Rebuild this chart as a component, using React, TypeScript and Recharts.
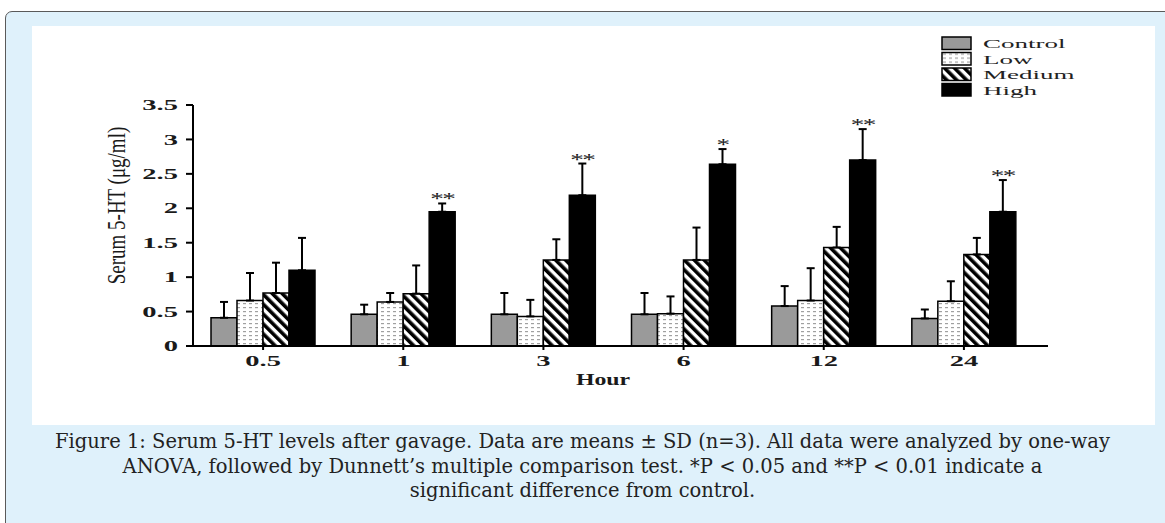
import React from 'react';
import { BarChart, Bar, XAxis, YAxis, ErrorBar, Legend, Label, Rectangle } from 'recharts';

// values (means and upper SD)
const hours = ['0.5', '1', '3', '6', '12', '24'];
const controlMean = [0.41, 0.46, 0.46, 0.46, 0.58, 0.4];
const controlSd = [0.23, 0.14, 0.31, 0.31, 0.29, 0.13];
const lowMean = [0.66, 0.64, 0.43, 0.47, 0.66, 0.65];
const lowSd = [0.4, 0.13, 0.24, 0.25, 0.47, 0.29];
const mediumMean = [0.77, 0.76, 1.25, 1.25, 1.43, 1.33];
const mediumSd = [0.44, 0.41, 0.3, 0.47, 0.3, 0.24];
const highMean = [1.1, 1.95, 2.19, 2.64, 2.7, 1.95];
const highSd = [0.47, 0.12, 0.46, 0.22, 0.45, 0.46];
const highSig = ['', '**', '**', '*', '**', '**'];
const yTicks = [0, 0.5, 1, 1.5, 2, 2.5, 3, 3.5];

const data = hours.map((hour, i) => ({
  hour,
  control: controlMean[i],
  controlErr: [0, controlSd[i]],
  low: lowMean[i],
  lowErr: [0, lowSd[i]],
  medium: mediumMean[i],
  mediumErr: [0, mediumSd[i]],
  high: highMean[i],
  highErr: [0, highSd[i]],
  highSd: highSd[i],
  sig: highSig[i],
}));

const series = [
  { key: 'control', name: 'Control', fill: '#9a9a9a' },
  { key: 'low', name: 'Low', fill: 'url(#lowDots)' },
  { key: 'medium', name: 'Medium', fill: 'url(#medStripes)' },
  { key: 'high', name: 'High', fill: '#000' },
];

const serif = 'Liberation Serif, Times New Roman, serif';
const ink = '#1a1a1a';

const XTick = ({ x, y, payload }: any) => (
  <g transform={`translate(${x},${y}) scale(1.9,1)`}>
    <text textAnchor="middle" dy="0.72em" fontSize={15} fontWeight="bold" fontFamily={serif} fill={ink}>
      {payload.value}
    </text>
  </g>
);

const YTick = ({ x, y, payload }: any) => (
  <g transform={`translate(${x},${y}) scale(1.9,1)`}>
    <text textAnchor="end" dy="0.34em" fontSize={15} fontWeight="bold" fontFamily={serif} fill={ink}>
      {payload.value}
    </text>
  </g>
);

// black bar plus the significance stars above its error bar
const HighShape = (props: any) => {
  const { x, y, width, height, payload } = props;
  const perUnit = payload.high ? height / payload.high : 0;
  const top = y - payload.highSd * perUnit;
  return (
    <g>
      <Rectangle x={x} y={y} width={width} height={height} fill="#000" stroke="#000" strokeWidth={1.5} />
      {payload.sig ? (
        <g transform={`translate(${x + width / 2},${top + 1}) scale(1.6,1)`}>
          <text textAnchor="middle" fontSize={17} letterSpacing={-1} fontFamily={serif} fill={ink}>
            {payload.sig}
          </text>
        </g>
      ) : null}
    </g>
  );
};

const LegendBox = () => (
  <svg width={200} height={72}>
    {series.map((s, i) => (
      <g key={s.key} transform={`translate(1,${5 + i * 15.5})`}>
        <rect width={29} height={12.5} fill={s.fill} stroke="#000" strokeWidth={1.5} />
        <g transform="translate(41,11) scale(2,1)">
          <text fontSize={13.5} fontFamily={serif} fill="#222">
            {s.name}
          </text>
        </g>
      </g>
    ))}
  </svg>
);

const YTitle = ({ viewBox }: any) => {
  const cx = viewBox.x + 84;
  const cy = viewBox.y + viewBox.height / 2 - 20;
  return (
    <g transform={`translate(${cx},${cy}) scale(1.3,1) rotate(-90)`}>
      <text textAnchor="middle" dy="0.35em" fontSize={19} fontFamily={serif} fill={ink}>
        Serum 5-HT (μg/ml)
      </text>
    </g>
  );
};

const XTitle = ({ viewBox }: any) => (
  <g transform={`translate(${viewBox.x + 410},${viewBox.y + 39}) scale(1.4,1)`}>
    <text textAnchor="middle" fontSize={17} fontWeight="bold" fontFamily={serif} fill={ink}>
      Hour
    </text>
  </g>
);

export default function App() {
  return (
    <div
      style={{
        position: 'absolute',
        left: 0,
        top: 0,
        width: 1165,
        height: 523,
        overflow: 'hidden',
        background: '#fff',
      }}
    >
      <div
        style={{
          position: 'absolute',
          left: 5,
          top: 11,
          width: 1190,
          height: 540,
          boxSizing: 'border-box',
          background: '#dff1fb',
          border: '1.5px solid #5a5a5a',
          borderRadius: 7,
        }}
      />
      <div style={{ position: 'absolute', left: 32, top: 26, width: 1123, height: 399, background: '#fff' }}>
        <BarChart
          width={1123}
          height={396}
          data={data}
          margin={{ top: 79, right: 107, left: 0, bottom: 0 }}
          barSize={26}
          barGap={0}
        >
          <defs>
            <pattern id="lowDots" width={6} height={4} patternUnits="userSpaceOnUse">
              <rect width={6} height={4} fill="#fff" />
              <rect x={1} y={1} width={3} height={1.2} fill="#a0a0a0" />
            </pattern>
            <pattern id="medStripes" width={7} height={7} patternUnits="userSpaceOnUse" patternTransform="rotate(-45)">
              <rect width={7} height={7} fill="#fff" />
              <rect width={3.6} height={7} fill="#000" />
            </pattern>
          </defs>
          <XAxis
            dataKey="hour"
            interval={0}
            height={76}
            padding={{ left: 0, right: 14 }}
            axisLine={{ stroke: '#000', strokeWidth: 2 }}
            tickLine={{ stroke: '#000', strokeWidth: 2 }}
            tickSize={4}
            tickMargin={5}
            tick={<XTick />}
          >
            <Label content={<XTitle />} />
          </XAxis>
          <YAxis
            width={161}
            domain={[0, 3.5]}
            ticks={yTicks}
            interval={0}
            axisLine={{ stroke: '#000', strokeWidth: 2 }}
            tickLine={{ stroke: '#000', strokeWidth: 2 }}
            tickSize={7}
            tickMargin={8}
            tick={<YTick />}
          >
            <Label content={<YTitle />} />
          </YAxis>
          <Legend
            layout="horizontal"
            verticalAlign="middle"
            align="center"
            content={<LegendBox />}
            wrapperStyle={{ left: 909, top: 6, width: 200, height: 72 }}
          />
          <Bar dataKey="control" name="Control" fill="#9a9a9a" stroke="#000" strokeWidth={1.5} isAnimationActive={false}>
            <ErrorBar dataKey="controlErr" width={4} stroke="#000" strokeWidth={2} direction="y" />
          </Bar>
          <Bar dataKey="low" name="Low" fill="url(#lowDots)" stroke="#000" strokeWidth={1.5} isAnimationActive={false}>
            <ErrorBar dataKey="lowErr" width={4} stroke="#000" strokeWidth={2} direction="y" />
          </Bar>
          <Bar dataKey="medium" name="Medium" fill="url(#medStripes)" stroke="#000" strokeWidth={1.5} isAnimationActive={false}>
            <ErrorBar dataKey="mediumErr" width={4} stroke="#000" strokeWidth={2} direction="y" />
          </Bar>
          <Bar dataKey="high" name="High" fill="#000" shape={<HighShape />} isAnimationActive={false}>
            <ErrorBar dataKey="highErr" width={4} stroke="#000" strokeWidth={2} direction="y" />
          </Bar>
        </BarChart>
      </div>
      <div
        style={{
          position: 'absolute',
          left: 0,
          top: 430,
          width: 1165,
          textAlign: 'center',
          fontFamily: 'DejaVu Serif, serif',
          fontSize: 19.5,
          lineHeight: '24.5px',
          color: '#222',
          whiteSpace: 'nowrap',
        }}
      >
        Figure 1: Serum 5-HT levels after gavage. Data are means ± SD (n=3). All data were analyzed by one-way
        <br />
        ANOVA, followed by Dunnett’s multiple comparison test. *P &lt; 0.05 and **P &lt; 0.01 indicate a
        <br />
        significant difference from control.
      </div>
    </div>
  );
}
